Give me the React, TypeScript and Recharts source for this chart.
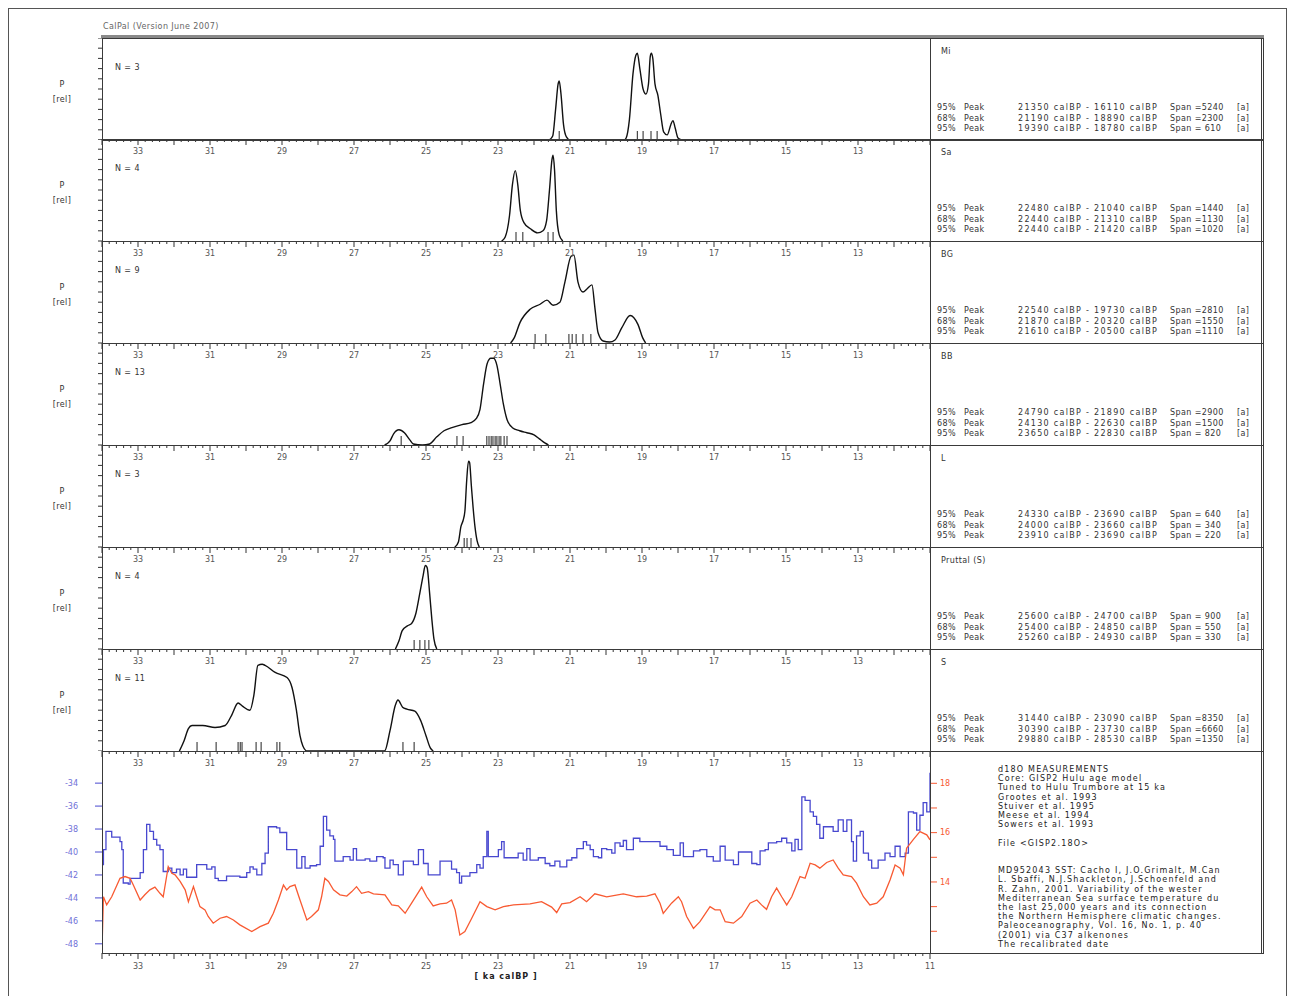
import React from 'react'
import { ComposedChart, Line, Scatter, XAxis, YAxis } from 'recharts'

// ---- axis ticks ----
const AGE_TICKS = [34, 33, 32, 31, 30, 29, 28, 27, 26, 25, 24, 23, 22, 21, 20, 19, 18, 17, 16, 15, 14, 13, 12, 11]
const TOP_LABELS = [33, 31, 29, 27, 25, 23, 21, 19, 17, 15, 13]
const BOTTOM_LABELS = [33, 31, 29, 27, 25, 23, 21, 19, 17, 15, 13, 11]
const P_TICKS = [0, 0.1, 0.2, 0.3, 0.4, 0.5, 0.6, 0.7, 0.8, 0.9, 1]
const D18O_TICKS = [-48, -46, -44, -42, -40, -38, -36, -34]
const SST_TICKS = [12, 13, 14, 15, 16, 17, 18]
const SST_LABELS = [18, 16, 14]

const MINOR_TICKS = AGE_TICKS.flatMap(t => [0, 0.2, 0.4, 0.6, 0.8].map(d => Math.round((t - d) * 10) / 10)).filter(v => v >= 11)

// ---- site summaries ----
const SITES = ['Mi', 'Sa', 'BG', 'BB', 'L', 'Pruttal (S)', 'S']
const N_COUNTS = [3, 4, 9, 13, 3, 4, 11]
const RANGES = [
    [['95%', '21350 calBP - 16110 calBP', '=5240'], ['68%', '21190 calBP - 18890 calBP', '=2300'], ['95%', '19390 calBP - 18780 calBP', '= 610']],
    [['95%', '22480 calBP - 21040 calBP', '=1440'], ['68%', '22440 calBP - 21310 calBP', '=1130'], ['95%', '22440 calBP - 21420 calBP', '=1020']],
    [['95%', '22540 calBP - 19730 calBP', '=2810'], ['68%', '21870 calBP - 20320 calBP', '=1550'], ['95%', '21610 calBP - 20500 calBP', '=1110']],
    [['95%', '24790 calBP - 21890 calBP', '=2900'], ['68%', '24130 calBP - 22630 calBP', '=1500'], ['95%', '23650 calBP - 22830 calBP', '= 820']],
    [['95%', '24330 calBP - 23690 calBP', '= 640'], ['68%', '24000 calBP - 23660 calBP', '= 340'], ['95%', '23910 calBP - 23690 calBP', '= 220']],
    [['95%', '25600 calBP - 24700 calBP', '= 900'], ['68%', '25400 calBP - 24850 calBP', '= 550'], ['95%', '25260 calBP - 24930 calBP', '= 330']],
    [['95%', '31440 calBP - 23090 calBP', '=8350'], ['68%', '30390 calBP - 23730 calBP', '=6660'], ['95%', '29880 calBP - 28530 calBP', '=1350']],
]

// ---- summed probability curves [age ka, relative P] ----
const MI_CURVE = [[21.58, 0], [21.48, 0.04], [21.4, 0.3], [21.33, 0.55], [21.3, 0.58], [21.25, 0.45], [21.18, 0.15], [21.1, 0.03], [21.0, 0],
    [19.5, 0], [19.44, 0.02], [19.35, 0.2], [19.25, 0.65], [19.17, 0.83], [19.13, 0.85], [19.06, 0.7], [18.97, 0.5], [18.89, 0.45], [18.82, 0.55],
    [18.77, 0.82], [18.74, 0.85], [18.7, 0.8], [18.64, 0.55], [18.56, 0.44], [18.48, 0.25], [18.4, 0.08], [18.3, 0.05], [18.2, 0.15], [18.14, 0.19],
    [18.08, 0.12], [18.0, 0.02], [17.9, 0]]
const SA_CURVE = [[22.9, 0], [22.8, 0.04], [22.68, 0.25], [22.6, 0.55], [22.52, 0.69], [22.45, 0.55], [22.38, 0.3], [22.28, 0.18], [22.1, 0.12],
    [21.9, 0.08], [21.75, 0.1], [21.65, 0.2], [21.57, 0.5], [21.5, 0.8], [21.47, 0.84], [21.43, 0.7], [21.38, 0.3], [21.3, 0.06], [21.2, 0]]
const BG_CURVE = [[22.65, 0], [22.55, 0.05], [22.39, 0.2], [22.11, 0.33], [21.83, 0.38], [21.64, 0.42], [21.47, 0.37], [21.28, 0.4], [21.14, 0.6],
    [20.97, 0.85], [20.89, 0.86], [20.78, 0.6], [20.64, 0.5], [20.53, 0.53], [20.39, 0.57], [20.31, 0.35], [20.22, 0.1], [20.08, 0.02], [19.9, 0.01],
    [19.75, 0.03], [19.56, 0.15], [19.33, 0.27], [19.11, 0.18], [18.98, 0.05], [18.9, 0]]
const BB_CURVE = [[26.15, 0], [26.0, 0.04], [25.9, 0.11], [25.75, 0.15], [25.6, 0.12], [25.45, 0.05], [25.35, 0.01], [25.1, 0], [24.9, 0.01],
    [24.7, 0.08], [24.5, 0.14], [24.28, 0.17], [24.0, 0.2], [23.75, 0.22], [23.6, 0.26], [23.5, 0.35], [23.4, 0.6], [23.3, 0.8], [23.2, 0.85],
    [23.12, 0.85], [23.03, 0.78], [22.95, 0.62], [22.85, 0.4], [22.75, 0.25], [22.6, 0.17], [22.4, 0.14], [22.2, 0.12], [22.0, 0.1], [21.85, 0.06],
    [21.7, 0.02], [21.6, 0]]
const L_CURVE = [[24.2, 0], [24.1, 0.05], [24.03, 0.2], [23.97, 0.26], [23.92, 0.35], [23.87, 0.65], [23.82, 0.84], [23.79, 0.83], [23.74, 0.6],
    [23.69, 0.38], [23.64, 0.2], [23.58, 0.06], [23.52, 0]]
const PR_CURVE = [[25.85, 0], [25.75, 0.08], [25.66, 0.18], [25.5, 0.23], [25.4, 0.25], [25.28, 0.35], [25.17, 0.55], [25.08, 0.72], [25.02, 0.82],
    [24.97, 0.8], [24.9, 0.55], [24.84, 0.3], [24.78, 0.1], [24.7, 0]]
const S_CURVE = [[31.85, 0], [31.72, 0.1], [31.6, 0.22], [31.5, 0.25], [31.2, 0.25], [30.86, 0.23], [30.58, 0.25], [30.4, 0.35], [30.22, 0.47],
    [30.1, 0.44], [29.89, 0.4], [29.78, 0.55], [29.67, 0.84], [29.55, 0.85], [29.47, 0.84], [29.19, 0.77], [28.86, 0.72], [28.72, 0.62], [28.6, 0.4],
    [28.5, 0.15], [28.42, 0.05], [28.3, 0], [26.15, 0], [26.0, 0.2], [25.85, 0.45], [25.78, 0.5], [25.65, 0.43], [25.53, 0.41], [25.31, 0.39],
    [25.15, 0.3], [25.0, 0.15], [24.88, 0.03], [24.8, 0]]
const CURVES = [MI_CURVE, SA_CURVE, BG_CURVE, BB_CURVE, L_CURVE, PR_CURVE, S_CURVE]

// individual dated samples (ka)
const DATES = [
    [21.3, 19.13, 18.97, 18.75, 18.58],
    [22.5, 22.31, 21.61, 21.47],
    [21.97, 21.67, 21.03, 20.94, 20.83, 20.64, 20.42],
    [25.69, 24.14, 23.97, 23.31, 23.25, 23.19, 23.14, 23.08, 23.03, 22.97, 22.92, 22.83, 22.75],
    [23.94, 23.86, 23.75],
    [25.33, 25.17, 25.03, 24.92],
    [31.36, 30.83, 30.22, 30.16, 30.11, 29.72, 29.58, 29.14, 29.06, 25.64, 25.33],
]

// ---- GISP2 d18O [age ka, permil] ----
const D18O = [[34.0, -36.6], [33.99, -41.1], [33.96, -39.8], [33.9, -39.8], [33.89, -38.2], [33.73, -38.7], [33.5, -39.1], [33.45, -39.8],
    [33.41, -42.7], [33.27, -42.8], [33.22, -42.3], [32.99, -42.3], [32.94, -41.8], [32.85, -39.8], [32.76, -37.6], [32.67, -38.2], [32.57, -38.9],
    [32.48, -39.4], [32.39, -39.8], [32.3, -41.7], [32.16, -41.4], [32.06, -41.8], [31.93, -41.5], [31.83, -42.0], [31.74, -41.5], [31.65, -42.2],
    [31.46, -42.2], [31.37, -41.1], [31.19, -41.1], [31.09, -41.5], [30.95, -41.3], [30.86, -42.3], [30.77, -42.5], [30.54, -42.1], [30.17, -42.2],
    [29.98, -41.8], [29.89, -41.3], [29.8, -41.5], [29.7, -42.0], [29.56, -41.0], [29.47, -40.1], [29.38, -37.8], [29.15, -37.9], [29.06, -38.3],
    [28.92, -38.3], [28.87, -39.8], [28.69, -39.8], [28.59, -41.4], [28.45, -40.4], [28.36, -41.4], [28.22, -41.2], [28.04, -41.1], [27.94, -39.5],
    [27.85, -36.9], [27.76, -38.1], [27.67, -38.6], [27.57, -38.9], [27.53, -40.8], [27.3, -40.4], [27.11, -40.7], [27.02, -39.7], [26.93, -40.7],
    [26.69, -40.6], [26.56, -40.8], [26.37, -40.4], [26.19, -40.5], [26.14, -41.4], [26.0, -40.7], [25.91, -41.1], [25.77, -42.0], [25.63, -40.8],
    [25.35, -41.1], [25.21, -39.8], [25.07, -41.0], [24.94, -42.0], [24.7, -42.0], [24.61, -40.8], [24.38, -40.8], [24.29, -41.5], [24.15, -41.8],
    [24.07, -42.7], [24.01, -42.1], [23.78, -41.8], [23.59, -41.1], [23.5, -41.4], [23.41, -40.4], [23.31, -38.2], [23.27, -40.4], [23.13, -40.4],
    [22.99, -39.8], [22.9, -39.1], [22.83, -40.5], [22.57, -40.5], [22.44, -40.1], [22.3, -40.7], [22.2, -39.7], [22.11, -40.7], [21.88, -40.5],
    [21.69, -41.0], [21.56, -41.2], [21.42, -40.8], [21.28, -41.3], [21.09, -40.7], [20.95, -40.5], [20.81, -39.7], [20.63, -39.1], [20.54, -39.4],
    [20.44, -39.8], [20.35, -40.4], [20.21, -40.5], [20.12, -39.7], [19.98, -39.8], [19.84, -40.1], [19.75, -39.2], [19.61, -39.5], [19.52, -39.0],
    [19.43, -39.8], [19.24, -38.8], [19.06, -39.1], [18.69, -39.1], [18.5, -39.5], [18.31, -39.8], [18.13, -40.3], [17.94, -39.2], [17.85, -40.4],
    [17.57, -39.9], [17.39, -39.8], [17.2, -40.4], [17.02, -40.8], [16.83, -39.5], [16.69, -40.7], [16.46, -41.1], [16.32, -40.0], [16.09, -40.0],
    [15.95, -41.0], [15.81, -41.1], [15.72, -39.9], [15.58, -39.8], [15.49, -39.2], [15.26, -39.1], [15.12, -38.8], [14.98, -39.2], [14.84, -39.9],
    [14.75, -38.9], [14.66, -39.8], [14.56, -35.2], [14.47, -35.5], [14.33, -36.5], [14.24, -36.9], [14.15, -37.6], [14.06, -38.8], [13.96, -37.8],
    [13.82, -37.8], [13.69, -38.2], [13.55, -37.2], [13.41, -38.2], [13.31, -37.2], [13.18, -39.1], [13.13, -40.8], [13.04, -38.6], [12.94, -38.2],
    [12.85, -40.1], [12.71, -40.7], [12.62, -41.4], [12.44, -40.7], [12.25, -40.1], [12.11, -40.4], [11.97, -39.5], [11.83, -40.4], [11.69, -40.1],
    [11.6, -36.5], [11.46, -36.6], [11.37, -38.1], [11.28, -36.8], [11.19, -35.7], [11.09, -36.5], [11.0, -36.3], [11.0, -33.1]]

// ---- MD95-2043 SST [age ka, degC] ----
const SST = [[34.0, 15.3], [33.99, 11.8], [33.96, 13.4], [33.87, 13.07], [33.73, 13.4], [33.5, 14.15], [33.36, 14.22], [33.22, 14.15], [33.13, 13.88],
    [32.94, 13.27], [32.81, 13.48], [32.67, 13.68], [32.53, 13.79], [32.39, 13.54], [32.3, 13.4], [32.16, 14.62], [32.06, 14.35], [31.97, 14.29],
    [31.83, 14.02], [31.69, 13.68], [31.6, 13.2], [31.46, 13.81], [31.37, 13.4], [31.28, 13.0], [31.14, 12.87], [31.05, 12.6], [30.91, 12.33],
    [30.72, 12.53], [30.54, 12.6], [30.35, 12.46], [30.17, 12.26], [29.84, 11.99], [29.61, 12.19], [29.38, 12.33], [29.24, 12.73], [29.1, 13.27],
    [28.96, 13.88], [28.87, 13.68], [28.78, 13.81], [28.64, 13.88], [28.5, 13.27], [28.31, 12.46], [28.18, 12.6], [27.99, 12.87], [27.9, 13.4],
    [27.81, 14.15], [27.71, 14.02], [27.57, 13.68], [27.39, 13.48], [27.2, 13.43], [27.06, 13.61], [26.93, 13.81], [26.79, 13.54], [26.6, 13.61],
    [26.46, 13.52], [26.14, 13.48], [25.95, 13.07], [25.77, 13.03], [25.58, 12.73], [25.4, 13.14], [25.12, 13.79], [24.98, 13.4], [24.8, 13.03],
    [24.61, 13.11], [24.43, 13.14], [24.29, 13.27], [24.19, 12.87], [24.06, 11.85], [23.92, 11.99], [23.73, 12.53], [23.5, 13.2], [23.31, 13.0],
    [23.08, 12.87], [22.85, 13.0], [22.57, 13.07], [22.11, 13.11], [21.79, 13.2], [21.51, 12.98], [21.37, 12.76], [21.23, 13.11], [21.0, 13.16],
    [20.72, 13.4], [20.54, 13.2], [20.31, 13.52], [19.98, 13.4], [19.52, 13.52], [19.15, 13.4], [18.87, 13.43], [18.64, 13.52], [18.5, 13.14],
    [18.41, 12.73], [18.18, 13.14], [17.99, 13.4], [17.9, 13.2], [17.76, 12.6], [17.57, 12.12], [17.39, 12.39], [17.11, 13.0], [16.97, 12.87],
    [16.83, 12.87], [16.69, 12.39], [16.46, 12.33], [16.23, 12.6], [16.0, 13.14], [15.81, 13.27], [15.68, 13.07], [15.54, 12.89], [15.4, 13.4],
    [15.26, 13.75], [15.12, 13.4], [14.98, 13.07], [14.84, 13.4], [14.61, 14.22], [14.47, 14.15], [14.33, 14.76], [14.19, 14.69], [14.06, 14.56],
    [13.87, 14.79], [13.69, 14.89], [13.55, 14.56], [13.41, 14.29], [13.18, 14.22], [13.04, 13.95], [12.85, 13.4], [12.67, 13.07], [12.48, 13.14],
    [12.3, 13.4], [12.11, 14.08], [11.97, 14.69], [11.83, 14.56], [11.74, 14.29], [11.65, 15.37], [11.46, 15.73], [11.28, 16.04], [11.09, 15.91],
    [11.0, 15.71]]

const NOTES = [
    'd18O MEASUREMENTS',
    'Core: GISP2 Hulu age model',
    'Tuned to Hulu Trumbore at 15 ka',
    'Grootes et al. 1993',
    'Stuiver et al. 1995',
    'Meese et al. 1994',
    'Sowers et al. 1993',
    '',
    'File <GISP2.18O>',
    '',
    '',
    'MD952043 SST: Cacho I, J.O.Grimalt, M.Can',
    'L. Sbaffi, N.J.Shackleton, J.Schoenfeld and',
    'R. Zahn, 2001. Variability of the wester',
    'Mediterranean Sea surface temperature du',
    'the last 25,000 years and its connection',
    'the Northern Hemisphere climatic changes.',
    'Paleoceanography, Vol. 16, No. 1, p. 40',
    '(2001) via C37 alkenones',
    'The recalibrated date',
]

const PANEL_TOPS = [38, 139, 241, 343, 445, 547, 649]
const PANEL_H = 102
const PLOT_L = 102
const PLOT_R = 930
const BOX_R = 1262
const FONT = '"DejaVu Sans", sans-serif'
const BLUE = '#4848cf'
const RED = '#f85a32'

const toPoints = (arr: number[][]) => arr.map(([age, v]) => ({ age, v }))
const isInt = (v: number) => Math.abs(v - Math.round(v)) < 1e-6

const DateTick = (props: any) => {
    const { cx, cy } = props
    if (cx == null || cy == null) return <g />
    return <line x1={cx} x2={cx} y1={cy} y2={cy - 9} stroke="#222" strokeWidth={1} />
}

// tick drawn inside the panel, hanging down from its top edge
const TopTick = (props: any) => {
    const { x, y, payload } = props
    const v = payload.value
    return (
        <g>
            <line x1={x} x2={x} y1={y} y2={y + (isInt(v) ? 6 : 3)} stroke="#333" strokeWidth={1} />
            {TOP_LABELS.includes(v) && (
                <text x={x} y={y + 15} textAnchor="middle" fontSize={8} fill="#555" fontFamily={FONT}>{v}</text>
            )}
        </g>
    )
}

// tick below the lowest panel, pointing outward
const BottomTick = (props: any) => {
    const { x, y, payload } = props
    const v = payload.value
    return (
        <g>
            <line x1={x} x2={x} y1={y} y2={y + (isInt(v) ? 6 : 3)} stroke="#333" strokeWidth={1} />
            {BOTTOM_LABELS.includes(v) && (
                <text x={x} y={y + 16} textAnchor="middle" fontSize={8} fill="#555" fontFamily={FONT}>{v}</text>
            )}
        </g>
    )
}

const LeftTick = (props: any) => {
    const { x, y } = props
    return <line x1={x - 4} x2={x} y1={y} y2={y} stroke="#333" strokeWidth={1} />
}

const Txt = ({ x, y, children, size = 8, color = '#333', anchor = 'left', weight = 400, spacing = 0.4 }: any) => (
    <div style={{
        position: 'absolute', left: x, top: y, fontFamily: FONT, fontSize: size, color, fontWeight: weight,
        whiteSpace: 'pre', lineHeight: 1, letterSpacing: spacing,
        transform: anchor === 'center' ? 'translate(-50%, -50%)' : 'translate(0, -50%)',
    }}>{children}</div>
)

function DensityPanel({ index }: { index: number }) {
    const top = PANEL_TOPS[index]
    const curve = toPoints(CURVES[index])
    const dates = DATES[index].map(age => ({ age, v: 0 }))
    return (
        <div style={{ position: 'absolute', left: PLOT_L - 40, top }}>
            <ComposedChart width={40 + PLOT_R - PLOT_L} height={PANEL_H} margin={{ top: 0, right: 0, bottom: 0, left: 0 }}>
                <XAxis xAxisId="age" dataKey="age" type="number" domain={[11, 34]} reversed allowDataOverflow
                    orientation="top" mirror ticks={MINOR_TICKS} interval={0} tickSize={0} tickMargin={0}
                    axisLine={false} tickLine={false} tick={index > 0 ? TopTick : false} />
                <YAxis yAxisId="p" type="number" domain={[0, 1]} width={40} ticks={P_TICKS} interval={0}
                    tickSize={0} tickMargin={0} axisLine={false} tickLine={false} tick={LeftTick} />
                <Line xAxisId="age" yAxisId="p" data={curve} dataKey="v" type="monotone" stroke="#111" strokeWidth={1.4}
                    dot={false} isAnimationActive={false} />
                <Scatter xAxisId="age" yAxisId="p" data={dates} dataKey="v" shape={DateTick} isAnimationActive={false} />
            </ComposedChart>
        </div>
    )
}

function ClimatePanel() {
    return (
        <div style={{ position: 'absolute', left: PLOT_L - 60, top: 751 }}>
            <ComposedChart width={60 + PLOT_R - PLOT_L + 40} height={202 + 24} margin={{ top: 0, right: 0, bottom: 0, left: 0 }}>
                <XAxis xAxisId="top" dataKey="age" type="number" domain={[11, 34]} reversed allowDataOverflow
                    orientation="top" mirror ticks={MINOR_TICKS} interval={0} tickSize={0} tickMargin={0}
                    axisLine={false} tickLine={false} tick={TopTick} />
                <XAxis xAxisId="bottom" dataKey="age" type="number" domain={[11, 34]} reversed allowDataOverflow
                    orientation="bottom" height={24} ticks={MINOR_TICKS} interval={0} tickSize={0} tickMargin={0}
                    axisLine={false} tickLine={false} tick={BottomTick} />
                <YAxis yAxisId="d18o" type="number" domain={[-48.8, -31.2]} allowDataOverflow width={60} ticks={D18O_TICKS}
                    interval={0} tickSize={7} tickMargin={17} axisLine={false} tickLine={{ stroke: BLUE }}
                    tick={{ fontSize: 8, fill: '#7070d8', fontFamily: FONT }} />
                <YAxis yAxisId="sst" orientation="right" type="number" domain={[11.12, 19.31]} allowDataOverflow width={40}
                    ticks={SST_TICKS} interval={0} tickSize={7} tickMargin={3} axisLine={false} tickLine={{ stroke: RED }}
                    tick={{ fontSize: 8, fill: RED, fontFamily: FONT }}
                    tickFormatter={(v: number) => (SST_LABELS.includes(v) ? String(v) : '')} />
                <Line xAxisId="top" yAxisId="d18o" data={toPoints(D18O)} dataKey="v" type="stepAfter" stroke={BLUE}
                    strokeWidth={1.3} dot={false} isAnimationActive={false} />
                <Line xAxisId="bottom" yAxisId="sst" data={toPoints(SST)} dataKey="v" type="linear" stroke={RED}
                    strokeWidth={1.3} dot={false} isAnimationActive={false} />
            </ComposedChart>
        </div>
    )
}

const frame = (left: number, top: number, width: number, height: number, extra: any = {}) => (
    <div style={{
        position: 'absolute', left, top, width, height, boxSizing: 'border-box',
        border: '1.5px solid #3a3a3a', pointerEvents: 'none', ...extra,
    }} />
)

export default function App() {
    return (
        <div style={{ position: 'absolute', left: 0, top: 0, width: 1294, height: 996, background: '#fff', overflow: 'hidden' }}>
            <div style={{ position: 'absolute', left: 8, top: 8, width: 1279, height: 1000, border: '1px solid #555', boxSizing: 'border-box' }} />
            <Txt x={103} y={27} size={8} color="#666">CalPal (Version June 2007)</Txt>

            {PANEL_TOPS.map((_, i) => <DensityPanel key={i} index={i} />)}
            <ClimatePanel />

            {/* frames */}
            <div style={{ position: 'absolute', left: PLOT_L - 1, top: 35, width: BOX_R - PLOT_L + 3, height: 3, background: '#8a8a8a' }} />
            {PANEL_TOPS.map((t, i) => (
                <React.Fragment key={i}>
                    {frame(PLOT_L, t, PLOT_R - PLOT_L + 1, PANEL_H + 1)}
                    {frame(PLOT_R, t, BOX_R - PLOT_R + 2, PANEL_H + 1, { borderRight: '3px double #3a3a3a' })}
                </React.Fragment>
            ))}
            {frame(PLOT_L, 751, PLOT_R - PLOT_L + 1, 203)}
            {frame(PLOT_R, 751, BOX_R - PLOT_R + 2, 203, { borderRight: '3px double #3a3a3a' })}

            {/* left labels and site texts */}
            {PANEL_TOPS.map((t, i) => (
                <React.Fragment key={'t' + i}>
                    <Txt x={62} y={t + 47} anchor="center" size={8}>P</Txt>
                    <Txt x={62} y={t + 62} anchor="center" size={8}>[rel]</Txt>
                    <Txt x={115} y={t + 30}>N = {N_COUNTS[i]}</Txt>
                    <Txt x={941} y={t + 14}>{SITES[i]}</Txt>
                    {RANGES[i].map((r, j) => (
                        <React.Fragment key={j}>
                            <Txt x={937} y={t + 70 + j * 10.5}>{r[0]}</Txt>
                            <Txt x={964} y={t + 70 + j * 10.5}>Peak</Txt>
                            <Txt x={1018} y={t + 70 + j * 10.5} spacing={1.3}>{r[1]}</Txt>
                            <Txt x={1170} y={t + 70 + j * 10.5}>Span {r[2]}</Txt>
                            <Txt x={1237} y={t + 70 + j * 10.5}>[a]</Txt>
                        </React.Fragment>
                    ))}
                </React.Fragment>
            ))}

            {NOTES.map((line, i) => (
                <Txt key={'n' + i} x={998} y={770 + i * 9.2} size={8} color="#222" spacing={1.2}>{line}</Txt>
            ))}

            <Txt x={506} y={977} anchor="center" size={8} weight={700} color="#222" spacing={1}>[ ka calBP ]</Txt>
        </div>
    )
}
